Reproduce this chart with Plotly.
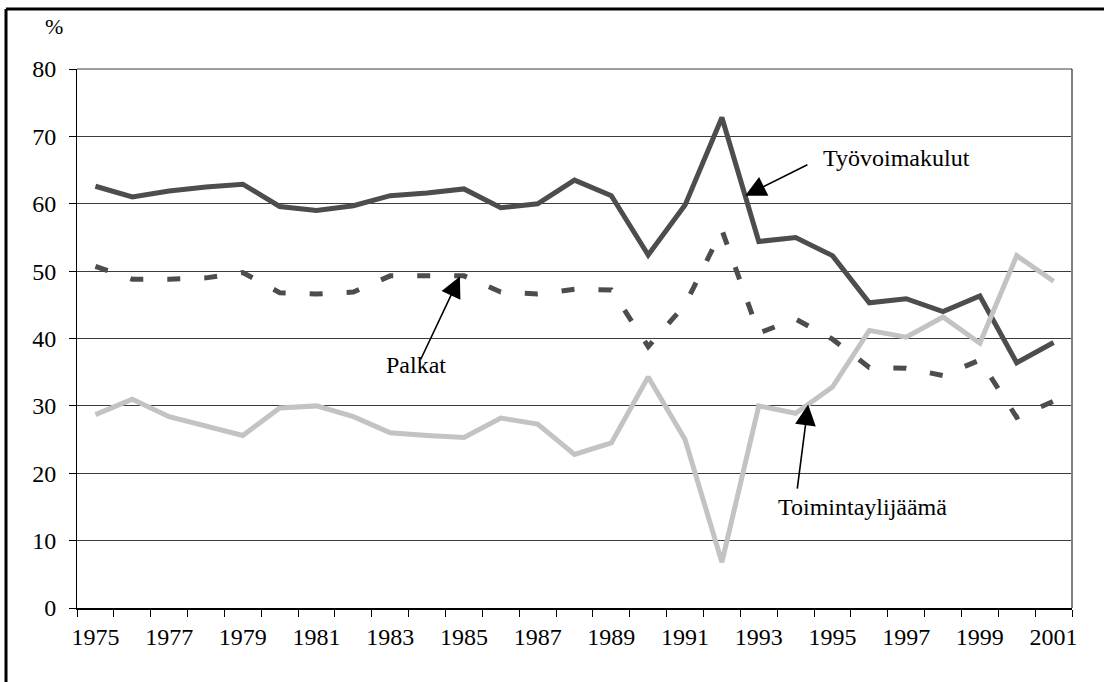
import plotly.graph_objects as go

years = list(range(1975, 2002))
tyovoimakulut = [62.6, 61.0, 61.9, 62.5, 62.9, 59.6, 59.0, 59.7, 61.2, 61.6, 62.2, 59.4, 60.0, 63.5,
                 61.2, 52.4, 59.8, 72.8, 54.4, 55.0, 52.3, 45.3, 45.9, 44.0, 46.3, 36.4, 39.4]
palkat = [50.7, 48.8, 48.8, 49.0, 49.8, 46.8, 46.6, 46.9, 49.3, 49.3, 49.3, 46.9, 46.6, 47.3,
          47.2, 38.8, 45.0, 56.1, 40.8, 42.9, 39.9, 35.7, 35.6, 34.5, 36.8, 28.3, 30.7]
toimintaylijaama = [28.7, 31.0, 28.4, 27.0, 25.6, 29.7, 30.0, 28.4, 26.0, 25.6, 25.3, 28.2, 27.3, 22.8,
                    24.5, 34.3, 25.0, 6.8, 30.0, 28.9, 32.8, 41.2, 40.2, 43.2, 39.3, 52.3, 48.5]

cats = [str(y) for y in years]
ticktext = [c if i % 2 == 0 else "" for i, c in enumerate(cats)]

FONT = "Liberation Serif"
DARK = "#4d4d4d"
LIGHT = "#c3c3c3"

fig = go.Figure()
fig.add_trace(go.Scatter(x=cats, y=tyovoimakulut, mode="lines", name="Työvoimakulut",
                         line=dict(color=DARK, width=5)))
fig.add_trace(go.Scatter(x=cats, y=palkat, mode="lines", name="Palkat",
                         line=dict(color=DARK, width=5, dash="13px,24px")))
fig.add_trace(go.Scatter(x=cats, y=toimintaylijaama, mode="lines", name="Toimintaylijäämä",
                         line=dict(color=LIGHT, width=5)))

fig.update_layout(
    width=1104, height=682,
    margin=dict(l=77, r=32, t=69, b=74, autoexpand=False),
    paper_bgcolor="white", plot_bgcolor="white",
    showlegend=False,
    font=dict(family=FONT, size=23, color="black"),
    xaxis=dict(type="category", range=[-0.5, 26.5], tickmode="array", tickvals=cats, ticktext=ticktext,
               tickson="boundaries", ticks="outside", ticklen=7, tickcolor="black", tickwidth=1,
               tickangle=0, automargin=False,
               showline=True, linecolor="black", linewidth=2, showgrid=False,
               tickfont=dict(family=FONT, size=24, color="black"), ticklabelstandoff=6),
    yaxis=dict(range=[0, 80], dtick=10, tick0=0, ticks="outside", ticklen=7, tickcolor="black",
               automargin=False,
               showline=True, linecolor="black", linewidth=1, showgrid=True, gridcolor="#3c3c3c",
               gridwidth=1, zeroline=False,
               tickfont=dict(family=FONT, size=24, color="black"), ticklabelstandoff=8),
)

# plot right border and outer frame
fig.add_shape(type="line", xref="paper", yref="paper", x0=1, x1=1, y0=0, y1=1,
              line=dict(color="#808080", width=2))
fig.add_shape(type="line", xref="paper", yref="paper", x0=1, x1=0, y0=1, y1=1,
              line=dict(color="#3c3c3c", width=1))
fx0 = (6 - 77) / (1104 - 77 - 32)
fy_top = 1 + (69 - 9) / (682 - 69 - 74)
fig.add_shape(type="line", xref="paper", yref="paper", x0=fx0, x1=1.2, y0=fy_top, y1=fy_top,
              line=dict(color="black", width=3))
fig.add_shape(type="line", xref="paper", yref="paper", x0=fx0, x1=fx0, y0=fy_top, y1=-0.3,
              line=dict(color="black", width=3))

# percent label
fig.add_annotation(text="%", xref="paper", yref="paper", x=(54 - 77) / 995, y=1 + (69 - 27) / 539,
                   showarrow=False, font=dict(family=FONT, size=22), xanchor="center", yanchor="middle")

# arrows (head -> tail in data coordinates)
arrows = [
    (17.63, 61.2, 19.36, 65.9),
    (9.89, 49.2, 8.81, 36.7),
    (19.34, 30.2, 19.04, 17.5),
]
for hx, hy, tx, ty in arrows:
    fig.add_annotation(x=hx, y=hy, ax=tx, ay=ty, xref="x", yref="y", axref="x", ayref="y",
                       text="", showarrow=True, arrowhead=2, arrowsize=2.6, arrowwidth=1.6,
                       arrowcolor="black")

labels = [
    ("Työvoimakulut", 896, 158),
    ("Palkat", 416, 365),
    ("Toimintaylijäämä", 862, 507),
]
for t, px, py in labels:
    fig.add_annotation(text=t, xref="paper", yref="paper", x=(px - 77) / 995, y=(608 - py) / 539,
                       showarrow=False, xanchor="center", yanchor="middle",
                       font=dict(family=FONT, size=24, color="black"))

fig.write_html("out.html", config={"displayModeBar": False},
               post_script="document.body.style.margin='0';document.body.style.overflow='hidden';")
